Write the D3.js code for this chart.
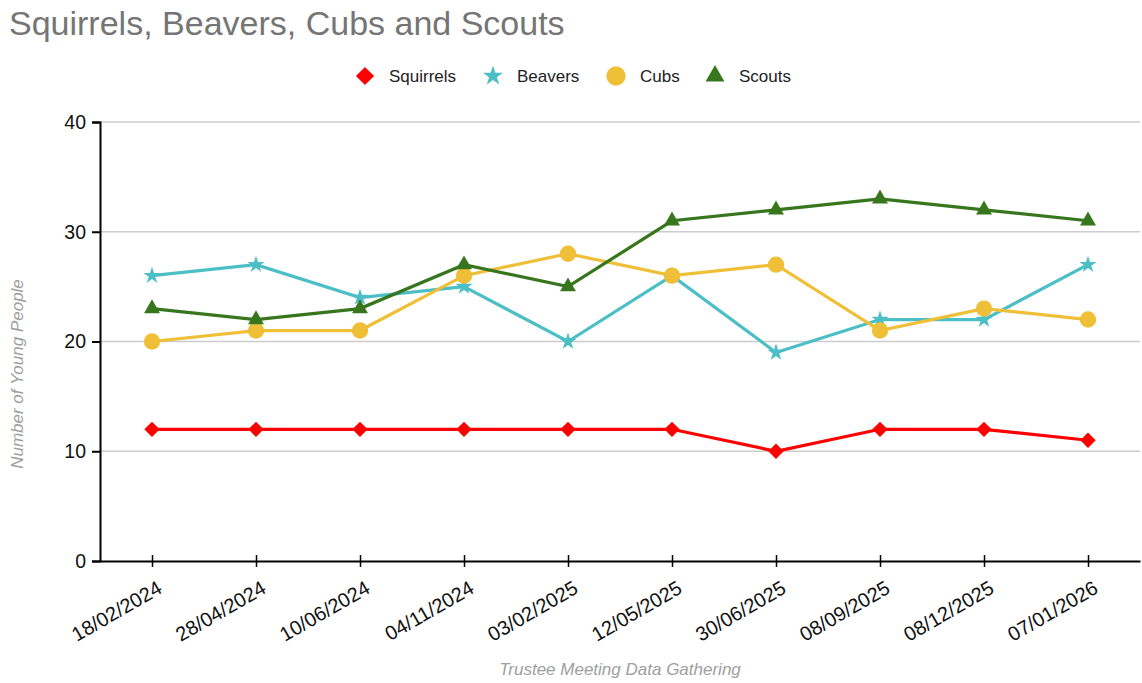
<!DOCTYPE html>
<html>
<head>
<meta charset="utf-8">
<script src="https://cdn.jsdelivr.net/npm/d3@7"></script>
<style>
  body { margin: 0; background: #fff; }
  text { font-family: "Liberation Sans", Arial, sans-serif; }
</style>
</head>
<body>
<div id="chart"></div>
<script>
const w = 1142, h = 683;

// data
const dates = ["18/02/2024", "28/04/2024", "10/06/2024", "04/11/2024", "03/02/2025",
    "12/05/2025", "30/06/2025", "08/09/2025", "08/12/2025", "07/01/2026"];
const squirrels = [12, 12, 12, 12, 12, 12, 10, 12, 12, 11];
const beavers = [26, 27, 24, 25, 20, 26, 19, 22, 22, 27];
const cubs = [20, 21, 21, 26, 28, 26, 27, 21, 23, 22];
const scouts = [23, 22, 23, 27, 25, 31, 32, 33, 32, 31];
const yTicks = [0, 10, 20, 30, 40];

const series = [
    { name: "Squirrels", values: squirrels, color: "#ff0000", shape: d3.symbolDiamond2, size: 150 },
    { name: "Beavers", values: beavers, color: "#4bbec6", shape: d3.symbolStar, size: 90 },
    { name: "Cubs", values: cubs, color: "#f0bf38", shape: d3.symbolCircle, size: 210 },
    { name: "Scouts", values: scouts, color: "#38761d", shape: d3.symbolTriangle, size: 110 }
];

const margin = { top: 122, right: 2, bottom: 122, left: 100 };

const svg = d3.select("#chart")
    .append("svg")
    .attr("width", w)
    .attr("height", h);

const x = d3.scalePoint()
    .domain(dates)
    .range([margin.left, w - margin.right])
    .padding(0.5);

const y = d3.scaleLinear()
    .domain([0, 40])
    .range([h - margin.bottom, margin.top]);

// title
svg.append("text")
    .attr("x", 9)
    .attr("y", 35)
    .style("font-size", "34px")
    .style("fill", "#757575")
    .text("Squirrels, Beavers, Cubs and Scouts");

// gridlines
svg.append("g")
    .selectAll("line")
    .data(yTicks.slice(1))
    .enter().append("line")
    .attr("x1", margin.left)
    .attr("x2", w - margin.right)
    .attr("y1", d => y(d))
    .attr("y2", d => y(d))
    .style("stroke", "#cccccc")
    .style("stroke-width", 1.5);

// y axis
const yAxis = svg.append("g")
    .attr("transform", `translate(${margin.left},0)`)
    .call(d3.axisLeft(y).tickValues(yTicks).tickSize(8).tickPadding(6));
yAxis.select(".domain").style("stroke", "#000").style("stroke-width", 2);
yAxis.selectAll(".tick line").style("stroke", "#000").style("stroke-width", 2);
yAxis.selectAll(".tick text")
    .style("font-size", "19.5px")
    .style("fill", "#111")
    .style("font-family", "'Liberation Sans', Arial, sans-serif");

// x axis
const xAxis = svg.append("g")
    .attr("transform", `translate(0,${y(0)})`)
    .call(d3.axisBottom(x).tickSize(8).tickSizeOuter(0));
xAxis.select(".domain").style("stroke", "#000").style("stroke-width", 2);
xAxis.selectAll(".tick line").style("stroke", "#000").style("stroke-width", 1.5)
    .attr("y1", -6).attr("y2", 6);
xAxis.selectAll(".tick text")
    .style("font-size", "20px")
    .style("fill", "#111")
    .style("font-family", "'Liberation Sans', Arial, sans-serif")
    .style("text-anchor", "end")
    .attr("dy", 0)
    .attr("y", 0)
    .attr("transform", "translate(11,31) rotate(-30)");

// axis titles
svg.append("text")
    .attr("transform", "translate(23,374) rotate(-90)")
    .style("text-anchor", "middle")
    .style("font-size", "17px")
    .style("font-style", "italic")
    .style("fill", "#9e9e9e")
    .text("Number of Young People");

svg.append("text")
    .attr("x", 620)
    .attr("y", 675)
    .style("text-anchor", "middle")
    .style("font-size", "17px")
    .style("font-style", "italic")
    .style("fill", "#9e9e9e")
    .text("Trustee Meeting Data Gathering");

// lines and markers
const line = d3.line()
    .x((d, i) => x(dates[i]))
    .y(d => y(d));

const groups = svg.selectAll(".series")
    .data(series)
    .enter().append("g")
    .attr("class", "series");

groups.append("path")
    .attr("d", d => line(d.values))
    .style("fill", "none")
    .style("stroke", d => d.color)
    .style("stroke-width", 3.2);

groups.each(function(s) {
    d3.select(this).selectAll(".pt")
        .data(s.values)
        .enter().append("path")
        .attr("class", "pt")
        .attr("transform", (d, i) => `translate(${x(dates[i])},${y(d)})`)
        .attr("d", d3.symbol().type(s.shape).size(s.size))
        .style("fill", s.color);
});

// legend
const legendX = [365, 493, 616, 715];
const legend = svg.selectAll(".legend")
    .data(series)
    .enter().append("g")
    .attr("class", "legend")
    .attr("transform", (d, i) => `translate(${legendX[i]},76)`);

legend.append("path")
    .attr("d", d => d3.symbol().type(d.shape).size(d.size * 1.4)())
    .style("fill", d => d.color);

legend.append("text")
    .attr("x", 24)
    .attr("y", 6)
    .style("font-size", "17px")
    .style("fill", "#222")
    .text(d => d.name);
</script>
</body>
</html>
